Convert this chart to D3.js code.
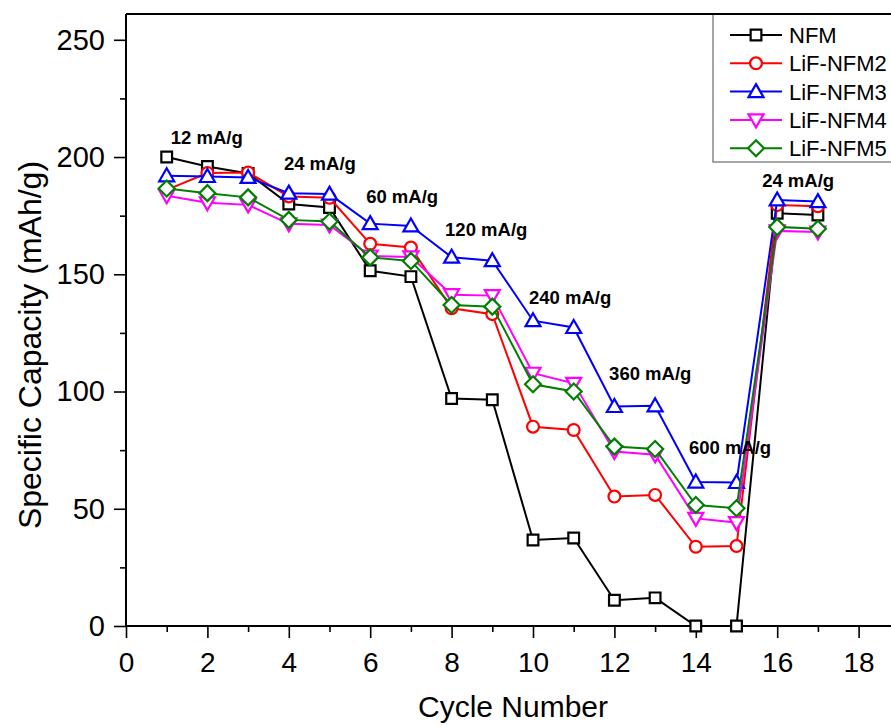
<!DOCTYPE html>
<html><head><meta charset="utf-8">
<script src="https://cdn.jsdelivr.net/npm/d3@7"></script>
<style>body{margin:0;background:#fff}svg{display:block}</style>
</head><body>
<svg id="c" width="891" height="726"></svg>
<script>
const cycles = [1,2,3,4,5,6,7,8,9,10,11,12,13,14,15,16,17];
const NFM      = [200,196,193,180,178.5,151.5,149,97,96.5,36.7,37.5,11,12,0,0,176,175.3];
const LiF_NFM2 = [186,193.2,193.4,183.2,182.6,163,161.4,135.5,133,85,83.6,55.2,55.9,33.8,34.1,179.5,179];
const LiF_NFM3 = [192,191.7,191.3,184.6,184.2,171.6,170.6,157.3,155.8,130.2,127.3,93.6,93.9,61.4,61.2,181.7,181];
const LiF_NFM4 = [183.5,180.5,179.6,171.5,171,157.8,157.4,141.3,140.9,107.8,103.5,74.4,73,45.9,44.1,168.5,168];
const LiF_NFM5 = [186.6,184.6,182.8,173.2,172.5,157.2,155.7,136.9,136.2,103.1,100,76.5,75.5,51.6,50.2,170.2,169.4];
const seriesNames = ["NFM","LiF-NFM2","LiF-NFM3","LiF-NFM4","LiF-NFM5"];
const seriesColors = ["#000000","#ff0000","#0000ff","#ff00ff","#008000"];
const seriesMarkers = ["square","circle","triangle","triangleDown","diamond"];
const seriesValues = [NFM, LiF_NFM2, LiF_NFM3, LiF_NFM4, LiF_NFM5];
const xTicks = [0,2,4,6,8,10,12,14,16,18];
const yTicks = [0,50,100,150,200,250];
const rateLabels = ["12 mA/g","24 mA/g","60 mA/g","120 mA/g","240 mA/g","360 mA/g","600 mA/g","24 mA/g"];
const rateLabelX = [1.1,3.88,5.9,7.84,9.9,11.87,13.83,15.63];
const rateLabelY = [205.6,194.5,180.5,166.4,137.4,105,73.4,187.3];

const svg = d3.select("#c");
const L = 126, T = 14, B = 626;
const x = d3.scaleLinear().domain([0,19]).range([L, L + 19*40.7]);
const y = d3.scaleLinear().domain([0,261]).range([B, T]);
const font = "Arial, 'Liberation Sans', sans-serif";

function styleAxis(size){
  return g=>{
    g.select(".domain").remove();
    g.selectAll(".tick line").attr("stroke","#000").attr("stroke-width",1.6);
    g.selectAll(".tick text").attr("font-family",font).attr("font-size",size).attr("fill","#000");
  };
}
// axes
svg.append("g").attr("transform",`translate(0,${B})`)
  .call(d3.axisBottom(x).tickValues(xTicks).tickSize(12).tickPadding(14).tickFormat(d3.format("d"))).call(styleAxis(28));
svg.append("g").attr("transform",`translate(0,${B})`)
  .call(d3.axisBottom(x).tickValues(d3.range(1,19,2)).tickSize(6).tickFormat("")).call(styleAxis(28));
svg.append("g").attr("transform",`translate(${L},0)`)
  .call(d3.axisLeft(y).tickValues(yTicks).tickSize(12).tickPadding(9)).call(styleAxis(29));
svg.append("g").attr("transform",`translate(${L},0)`)
  .call(d3.axisLeft(y).tickValues([25,75,125,175,225]).tickSize(6).tickFormat("")).call(styleAxis(29));
svg.append("line").attr("x1",L).attr("x2",891).attr("y1",B).attr("y2",B).attr("stroke","#000").attr("stroke-width",2);
svg.append("line").attr("x1",L).attr("x2",L).attr("y1",T).attr("y2",B).attr("stroke","#000").attr("stroke-width",2);

// axis titles
svg.append("text").attr("x",513).attr("y",717).attr("text-anchor","middle")
  .attr("font-family",font).attr("font-size",30).text("Cycle Number");
svg.append("text").attr("transform","translate(41,345) rotate(-90)").attr("text-anchor","middle")
  .attr("font-family",font).attr("font-size",32).text("Specific Capacity (mAh/g)");

// markers
function markerPath(type){
  switch(type){
    case "square": return d3.symbol(d3.symbolSquare, 115)();
    case "circle": return d3.symbol(d3.symbolCircle, 110)();
    case "triangle": return "M0,-7.5L7.5,5.5L-7.5,5.5Z";
    case "triangleDown": return "M0,7.5L7.5,-5.5L-7.5,-5.5Z";
    case "diamond": return "M0,-8L8,0L0,8L-8,0Z";
  }
}
const line = d3.line().x((d,i)=>x(cycles[i])).y(d=>y(d));
seriesValues.forEach((vals,si)=>{
  const g = svg.append("g");
  g.append("path").attr("d",line(vals)).attr("fill","none").attr("stroke",seriesColors[si]).attr("stroke-width",2);
  g.selectAll("path.m").data(vals).enter().append("path").attr("class","m")
    .attr("d",markerPath(seriesMarkers[si]))
    .attr("transform",(d,i)=>`translate(${x(cycles[i])},${y(d)})`)
    .attr("fill","#fff").attr("stroke",seriesColors[si]).attr("stroke-width",2.2);
});

// rate labels
rateLabels.forEach((t,i)=>{
  svg.append("text").attr("x",x(rateLabelX[i])).attr("y",y(rateLabelY[i]))
    .attr("font-family",font).attr("font-weight","bold").attr("font-size",18.5).text(t);
});

// legend
const lg = svg.append("g");
lg.append("rect").attr("x",713).attr("y",T).attr("width",200).attr("height",148)
  .attr("fill","#fff").attr("stroke","#888").attr("stroke-width",1.5);
svg.append("line").attr("x1",L).attr("x2",891).attr("y1",T).attr("y2",T).attr("stroke","#000").attr("stroke-width",2);
seriesNames.forEach((n,i)=>{
  const yy = 35 + i*28.3;
  lg.append("line").attr("x1",730).attr("x2",782).attr("y1",yy).attr("y2",yy).attr("stroke",seriesColors[i]).attr("stroke-width",2);
  lg.append("path").attr("d",markerPath(seriesMarkers[i])).attr("transform",`translate(756,${yy})`)
    .attr("fill","#fff").attr("stroke",seriesColors[i]).attr("stroke-width",2.2);
  lg.append("text").attr("x",789).attr("y",yy+8).attr("font-family",font).attr("font-size",22).text(n);
});
</script>
</body></html>
